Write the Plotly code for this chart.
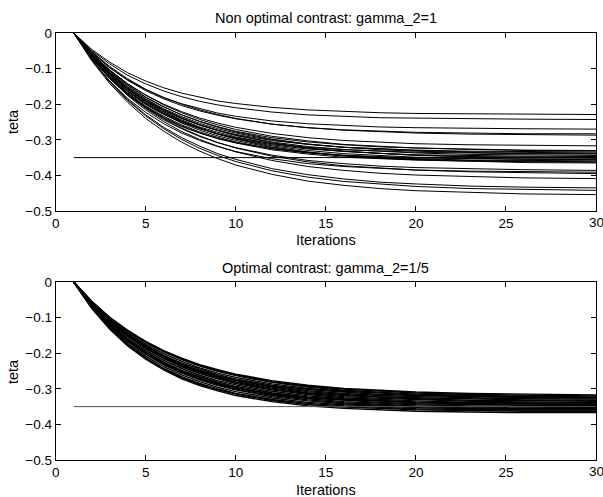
import plotly.graph_objects as go

iterations = [1, 2, 3, 4, 5, 6, 7, 8, 9, 10, 12, 14, 16, 18, 20, 23, 26, 30]

# Reference level drawn as a horizontal line from iteration 1 to 30
target_teta = -0.35
target_iters = [1, 30]

top_title = "Non optimal contrast: gamma_2=1"
bottom_title = "Optimal contrast: gamma_2=1/5"
x_label = "Iterations"
y_label = "teta"
x_ticks = [0, 5, 10, 15, 20, 25, 30]
y_ticks = [-0.5, -0.4, -0.3, -0.2, -0.1, 0]
y_ticktext = ["\u22120.5", "\u22120.4", "\u22120.3", "\u22120.2", "\u22120.1", "0"]

top_curves = [
    [0, -.046, -.082, -.112, -.135, -.154, -.169, -.181, -.191, -.198, -.209, -.216, -.221, -.224, -.226, -.227, -.228, -.229],
    [0, -.049, -.087, -.119, -.143, -.163, -.179, -.192, -.202, -.210, -.222, -.230, -.234, -.238, -.239, -.241, -.242, -.243],
    [0, -.054, -.097, -.132, -.159, -.182, -.199, -.213, -.225, -.234, -.247, -.255, -.260, -.264, -.266, -.268, -.269, -.270],
    [0, -.054, -.098, -.133, -.162, -.185, -.204, -.219, -.231, -.241, -.256, -.266, -.272, -.276, -.279, -.281, -.283, -.283],
    [0, -.052, -.094, -.129, -.158, -.181, -.200, -.216, -.229, -.240, -.256, -.266, -.273, -.278, -.281, -.284, -.286, -.287],
    [0, -.057, -.104, -.143, -.174, -.200, -.221, -.239, -.253, -.265, -.282, -.294, -.302, -.307, -.311, -.314, -.316, -.317],
    [0, -.060, -.108, -.148, -.181, -.208, -.230, -.248, -.263, -.276, -.294, -.306, -.314, -.320, -.323, -.327, -.329, -.330],
    [0, -.057, -.104, -.143, -.175, -.202, -.224, -.243, -.258, -.271, -.290, -.303, -.313, -.319, -.323, -.327, -.330, -.331],
    [0, -.064, -.115, -.157, -.191, -.218, -.240, -.258, -.273, -.285, -.302, -.313, -.321, -.326, -.329, -.332, -.333, -.334],
    [0, -.061, -.111, -.152, -.185, -.213, -.235, -.254, -.269, -.281, -.300, -.312, -.321, -.326, -.330, -.334, -.336, -.337],
    [0, -.068, -.122, -.166, -.201, -.229, -.251, -.269, -.283, -.294, -.311, -.321, -.328, -.332, -.335, -.337, -.339, -.339],
    [0, -.058, -.106, -.146, -.180, -.207, -.230, -.249, -.265, -.278, -.298, -.312, -.321, -.328, -.332, -.336, -.339, -.340],
    [0, -.062, -.113, -.155, -.189, -.217, -.240, -.259, -.274, -.287, -.306, -.319, -.327, -.333, -.337, -.341, -.343, -.344],
    [0, -.066, -.120, -.163, -.198, -.227, -.250, -.268, -.284, -.296, -.314, -.326, -.333, -.338, -.342, -.345, -.346, -.347],
    [0, -.063, -.115, -.157, -.192, -.221, -.244, -.264, -.279, -.292, -.311, -.324, -.333, -.339, -.343, -.347, -.349, -.350],
    [0, -.060, -.110, -.152, -.186, -.215, -.238, -.258, -.274, -.288, -.308, -.323, -.332, -.339, -.344, -.348, -.351, -.352],
    [0, -.071, -.128, -.174, -.210, -.239, -.263, -.281, -.296, -.308, -.325, -.336, -.343, -.348, -.351, -.353, -.355, -.355],
    [0, -.064, -.117, -.160, -.196, -.225, -.248, -.268, -.284, -.297, -.317, -.330, -.339, -.345, -.349, -.352, -.354, -.356],
    [0, -.068, -.124, -.169, -.205, -.234, -.258, -.278, -.293, -.306, -.325, -.337, -.345, -.350, -.353, -.357, -.358, -.359],
    [0, -.065, -.119, -.163, -.199, -.228, -.253, -.273, -.289, -.302, -.322, -.335, -.345, -.351, -.355, -.358, -.360, -.362],
    [0, -.069, -.125, -.171, -.207, -.237, -.261, -.281, -.297, -.309, -.328, -.340, -.349, -.354, -.357, -.360, -.362, -.363],
    [0, -.062, -.114, -.157, -.193, -.222, -.247, -.267, -.284, -.298, -.320, -.334, -.345, -.352, -.356, -.361, -.364, -.365],
    [0, -.070, -.127, -.174, -.212, -.244, -.269, -.291, -.308, -.322, -.343, -.358, -.367, -.374, -.378, -.382, -.384, -.386],
    [0, -.074, -.135, -.184, -.223, -.255, -.281, -.302, -.319, -.333, -.353, -.367, -.375, -.381, -.385, -.388, -.390, -.391],
    [0, -.067, -.124, -.170, -.209, -.241, -.267, -.289, -.308, -.323, -.346, -.362, -.373, -.380, -.385, -.390, -.393, -.395],
    [0, -.070, -.128, -.176, -.216, -.249, -.277, -.299, -.318, -.334, -.358, -.375, -.386, -.394, -.399, -.404, -.407, -.409],
    [0, -.074, -.136, -.187, -.230, -.265, -.294, -.318, -.339, -.355, -.381, -.398, -.410, -.419, -.424, -.430, -.433, -.435],
    [0, -.075, -.138, -.190, -.233, -.269, -.299, -.324, -.344, -.361, -.387, -.405, -.417, -.425, -.431, -.437, -.440, -.442],
    [0, -.078, -.142, -.195, -.240, -.276, -.307, -.332, -.353, -.371, -.397, -.416, -.428, -.437, -.443, -.448, -.452, -.454],
]

bottom_curves = [
    [0, -.054, -.099, -.136, -.167, -.193, -.214, -.232, -.246, -.259, -.277, -.290, -.299, -.305, -.309, -.313, -.315, -.317],
    [0, -.055, -.100, -.137, -.169, -.195, -.216, -.234, -.249, -.261, -.280, -.293, -.301, -.307, -.312, -.316, -.318, -.320],
    [0, -.055, -.101, -.139, -.170, -.196, -.218, -.236, -.251, -.263, -.282, -.295, -.304, -.310, -.315, -.319, -.321, -.323],
    [0, -.057, -.104, -.143, -.175, -.201, -.223, -.241, -.256, -.268, -.286, -.299, -.307, -.313, -.317, -.321, -.323, -.325],
    [0, -.059, -.107, -.147, -.179, -.206, -.228, -.245, -.260, -.272, -.290, -.302, -.310, -.316, -.319, -.323, -.325, -.326],
    [0, -.059, -.108, -.148, -.181, -.208, -.230, -.248, -.263, -.275, -.293, -.305, -.313, -.319, -.322, -.326, -.328, -.329],
    [0, -.060, -.109, -.149, -.182, -.210, -.232, -.250, -.265, -.277, -.295, -.308, -.316, -.322, -.325, -.329, -.331, -.332],
    [0, -.060, -.110, -.151, -.184, -.211, -.234, -.252, -.267, -.280, -.298, -.311, -.319, -.324, -.328, -.332, -.334, -.335],
    [0, -.061, -.111, -.152, -.186, -.213, -.236, -.254, -.270, -.282, -.301, -.313, -.322, -.327, -.331, -.335, -.337, -.338],
    [0, -.062, -.112, -.153, -.187, -.215, -.238, -.257, -.272, -.285, -.303, -.316, -.325, -.330, -.334, -.338, -.340, -.341],
    [0, -.064, -.116, -.158, -.192, -.220, -.243, -.262, -.277, -.289, -.307, -.320, -.328, -.333, -.337, -.340, -.342, -.343],
    [0, -.066, -.119, -.162, -.196, -.225, -.248, -.266, -.281, -.293, -.311, -.323, -.330, -.335, -.339, -.342, -.343, -.344],
    [0, -.066, -.120, -.163, -.198, -.227, -.250, -.268, -.284, -.296, -.314, -.326, -.333, -.338, -.342, -.345, -.346, -.347],
    [0, -.067, -.121, -.164, -.200, -.229, -.252, -.271, -.286, -.298, -.316, -.328, -.336, -.341, -.345, -.348, -.349, -.350],
    [0, -.067, -.122, -.166, -.202, -.231, -.254, -.273, -.288, -.301, -.319, -.331, -.339, -.344, -.348, -.351, -.352, -.353],
    [0, -.068, -.123, -.167, -.203, -.233, -.256, -.275, -.291, -.303, -.322, -.334, -.342, -.347, -.350, -.354, -.355, -.356],
    [0, -.070, -.127, -.172, -.208, -.238, -.261, -.280, -.296, -.308, -.326, -.338, -.345, -.350, -.353, -.356, -.358, -.358],
    [0, -.072, -.130, -.176, -.213, -.243, -.266, -.285, -.300, -.313, -.330, -.341, -.348, -.353, -.356, -.358, -.360, -.360],
    [0, -.073, -.131, -.178, -.215, -.245, -.269, -.288, -.303, -.315, -.333, -.344, -.351, -.356, -.359, -.361, -.363, -.363],
    [0, -.074, -.132, -.180, -.217, -.247, -.272, -.291, -.306, -.319, -.336, -.348, -.355, -.360, -.363, -.365, -.367, -.367],
]

FONT = "Liberation Sans, Arial, Helvetica, sans-serif"
W, H = 603, 497

fig = go.Figure()

for curve in top_curves:
    fig.add_trace(go.Scatter(x=iterations, y=curve, mode="lines", xaxis="x", yaxis="y",
                             line=dict(color="black", width=1), showlegend=False, hoverinfo="skip"))
fig.add_trace(go.Scatter(x=target_iters, y=[target_teta, target_teta], mode="lines", xaxis="x", yaxis="y",
                         line=dict(color="black", width=1), showlegend=False, hoverinfo="skip"))

for curve in bottom_curves:
    fig.add_trace(go.Scatter(x=iterations, y=curve, mode="lines", xaxis="x2", yaxis="y2",
                             line=dict(color="black", width=1.4), showlegend=False, hoverinfo="skip"))
fig.add_trace(go.Scatter(x=target_iters, y=[target_teta, target_teta], mode="lines", xaxis="x2", yaxis="y2",
                         line=dict(color="#555555", width=1), showlegend=False, hoverinfo="skip"))

def px_x(p):
    return p / W

def px_y(p):
    return 1 - p / H

xdom = [px_x(55.7), px_x(596)]
top_dom = [px_y(211), px_y(33)]
bot_dom = [px_y(460), px_y(282)]

axis_common = dict(
    showline=True, linecolor="black", linewidth=1, mirror="ticks",
    ticks="inside", ticklen=5, tickwidth=1, tickcolor="black",
    showgrid=False, zeroline=False, automargin=False,
    tickfont=dict(family=FONT, size=13.5, color="black"),
)

fig.update_layout(
    width=W, height=H, autosize=False,
    margin=dict(l=0, r=0, t=0, b=0, pad=0),
    paper_bgcolor="white", plot_bgcolor="white",
    xaxis=dict(domain=xdom, range=[0, 30], tickmode="array", tickvals=x_ticks, anchor="y", **axis_common),
    yaxis=dict(domain=top_dom, range=[-0.5, 0], tickmode="array", tickvals=y_ticks, ticktext=y_ticktext,
               anchor="x", **axis_common),
    xaxis2=dict(domain=xdom, range=[0, 30], tickmode="array", tickvals=x_ticks, anchor="y2", **axis_common),
    yaxis2=dict(domain=bot_dom, range=[-0.5, 0], tickmode="array", tickvals=y_ticks, ticktext=y_ticktext,
                anchor="x2", **axis_common),
)

def label(text, x, y, angle=0, size=14.5):
    fig.add_annotation(text=text, x=x, y=y, xref="paper", yref="paper",
                       xanchor="center", yanchor="middle", showarrow=False, textangle=angle,
                       font=dict(family=FONT, size=size, color="black"))

label(top_title, px_x(325.5), px_y(18))
label(bottom_title, px_x(325.5), px_y(268))
label(x_label, px_x(325.5), px_y(240))
label(x_label, px_x(325.5), px_y(490))
label(y_label, px_x(13), px_y(122), angle=-90)
label(y_label, px_x(13), px_y(372), angle=-90)

# The last x tick label ("30") sits at the page edge and is cut off there, as in the reference;
# plotly drops it, so it is written as text at that tick position.
label(str(x_ticks[-1]), px_x(596), px_y(222.5), size=13.5)
label(str(x_ticks[-1]), px_x(596), px_y(471.5), size=13.5)

fig.write_html(
    "out.html",
    config={"displayModeBar": False},
    post_script="document.documentElement.style.margin='0';document.body.style.margin='0';"
                "document.body.style.overflow='hidden';",
)
